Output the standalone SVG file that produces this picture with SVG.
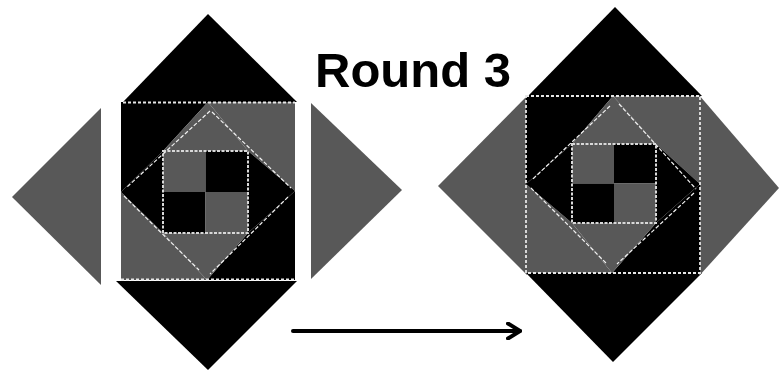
<svg xmlns="http://www.w3.org/2000/svg" width="780" height="372" viewBox="0 0 780 372">
<style>
.k{fill:#000}
.g{fill:#585858}
.dl{fill:none;stroke:#f2f2f2;stroke-width:1.2;stroke-dasharray:4 2}
.ds{fill:none;stroke:#e6e6e6;stroke-width:1.8;stroke-dasharray:3 2}
.dq{fill:none;stroke:#d8d8d8;stroke-width:2;stroke-dasharray:3 1.5}
.title{font-family:"Liberation Sans",Arial,sans-serif;font-weight:bold;font-size:49px;fill:#000}
.conn{fill:none;stroke:#000;stroke-width:4;stroke-linecap:round}
</style>
<defs>
<marker id="ah" markerUnits="userSpaceOnUse" viewBox="0 0 16 18" refX="14" refY="9" markerWidth="16" markerHeight="18" orient="auto">
<path d="M2,1.5 L14,9 L2,16.5" fill="none" stroke="#000" stroke-width="4" stroke-linecap="round" stroke-linejoin="round"/>
</marker>
</defs>
<rect width="780" height="372" fill="#fff"/>

<g id="left-figure">
<g id="left-top-triangle"><polygon class="k" points="123,102 208,14 297,102"/></g>
<g id="left-bottom-triangle"><polygon class="k" points="116,281 297,281 208,370"/></g>
<g id="left-side-left"><polygon class="g" points="101,108 12,197 101,285"/></g>
<g id="left-side-right"><polygon class="g" points="311,103 402,190 311,279"/></g>
<g id="left-block">
<polygon class="k" points="121,102 208,102 163,151 121,192"/>
<polygon class="g" points="208,102 295,102 295,191 248,151"/>
<polygon class="k" points="295,191 295,280 207,280 248,233"/>
<polygon class="g" points="121,192 163,233 207,280 121,280"/>
<polygon class="g" points="208,102 248,151 163,151"/>
<polygon class="k" points="295,191 248,233 248,151"/>
<polygon class="g" points="207,280 163,233 248,233"/>
<polygon class="k" points="121,192 163,151 163,233"/>
<rect class="g" x="163" y="151" width="42.5" height="41"/>
<rect class="k" x="205.5" y="151" width="42.5" height="41"/>
<rect class="k" x="163" y="192" width="42.5" height="41"/>
<rect class="g" x="205.5" y="192" width="42.5" height="41"/>
<line class="dl" x1="210" y1="111" x2="127" y2="187"/>
<line class="dl" x1="212" y1="112" x2="291" y2="188"/>
<line class="dl" x1="288" y1="197" x2="210" y2="274"/>
<line class="dl" x1="124" y1="196" x2="199" y2="270"/>
<rect class="dq" x="163" y="151" width="85" height="82"/>
<line class="ds" x1="123" y1="102.5" x2="295" y2="102.5"/>
<line class="ds" x1="121" y1="279.5" x2="295" y2="279.5"/>
</g>
</g>

<g id="title"><text class="title" x="315" y="87">Round 3</text></g>

<g id="right-figure">
<g id="right-top-triangle"><polygon class="k" points="528,96 615,7 702,96"/></g>
<g id="right-bottom-triangle"><polygon class="k" points="526,273 702,273 613,362"/></g>
<g id="right-side-left"><polygon class="g" points="527,96 438,186 527,275"/></g>
<g id="right-side-right"><polygon class="g" points="699,95 779,188 699,276"/></g>
<g id="right-block">
<polygon class="k" points="526,96 613,96 572,144 526,184"/>
<polygon class="g" points="613,96 700,96 700,184 656,144"/>
<polygon class="k" points="700,184 700,273 612,273 656,223"/>
<polygon class="g" points="526,184 572,223 612,273 526,273"/>
<polygon class="g" points="613,96 656,144 572,144"/>
<polygon class="k" points="700,184 656,223 656,144"/>
<polygon class="g" points="612,273 572,223 656,223"/>
<polygon class="k" points="526,184 572,144 572,223"/>
<rect class="g" x="572" y="144" width="42" height="39.5"/>
<rect class="k" x="614" y="144" width="42" height="39.5"/>
<rect class="k" x="572" y="183.5" width="42" height="39.5"/>
<rect class="g" x="614" y="183.5" width="42" height="39.5"/>
<line class="dl" x1="610" y1="106" x2="533" y2="179"/>
<line class="dl" x1="619" y1="104" x2="696" y2="189"/>
<line class="dl" x1="694" y1="193" x2="617" y2="264"/>
<line class="dl" x1="531" y1="188" x2="606" y2="263"/>
<rect class="dq" x="572" y="144" width="84" height="79"/>
<rect class="ds" x="526" y="96" width="174" height="177"/>
</g>
</g>

<g id="connectors">
<line class="conn" x1="293" y1="331" x2="520" y2="331" marker-end="url(#ah)"/>
</g>
</svg>
